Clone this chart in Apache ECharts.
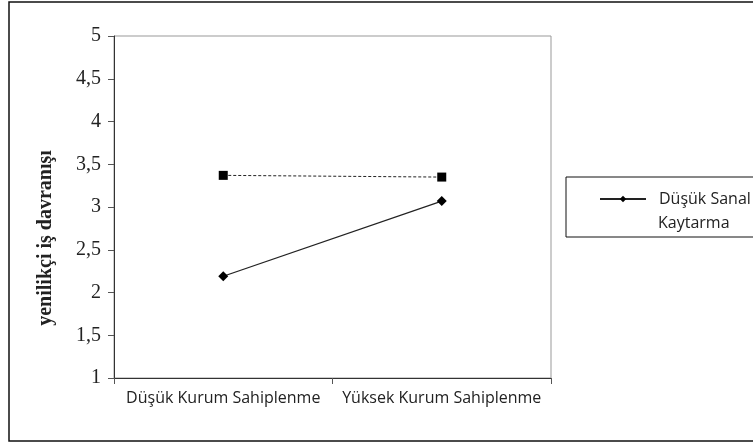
<!DOCTYPE html>
<html>
<head>
<meta charset="utf-8">
<script src="https://cdn.jsdelivr.net/npm/echarts@6/dist/echarts.min.js"></script>
<style>
	html, body { margin: 0; padding: 0; background: #fff; }
	#chart { width: 753px; height: 443px; }
</style>
</head>
<body>
<div id="chart"></div>
<script>
// veriler
var categories = ['Düşük Kurum Sahiplenme', 'Yüksek Kurum Sahiplenme'];
var lowSanal = [2.19, 3.07];
var highSanal = [3.37, 3.35];
var seriesNames = ['Düşük Sanal Kaytarma', 'Yüksek Sanal Kaytarma'];
var yTicks = [1, 1.5, 2, 2.5, 3, 3.5, 4, 4.5, 5];
var yName = 'yenilikçi iş davranışı';

var myChart = echarts.init(document.getElementById('chart'));

var option = {
	animation: false,
	backgroundColor: '#fff',
	graphic: [{
		type: 'rect',
		shape: { x: 9, y: 2, width: 800, height: 439 },
		style: { fill: 'none', stroke: '#111', lineWidth: 1.5 },
		silent: true
	}, {
		// eksen adı
		type: 'text',
		x: 46,
		y: 238,
		rotation: Math.PI / 2,
		style: {
			text: yName,
			fontFamily: 'Liberation Serif',
			fontWeight: 'bold',
			fontSize: 20,
			fill: '#222',
			align: 'center',
			verticalAlign: 'middle'
		},
		silent: true
	}, {
		// lejant ikinci satır
		type: 'text',
		x: 658,
		y: 223,
		style: {
			text: 'Kaytarma',
			fontFamily: 'Open Sans',
			fontSize: 16,
			fill: '#222',
			align: 'left',
			verticalAlign: 'middle'
		},
		silent: true
	}],
	grid: {
		left: 114,
		right: 202,
		top: 36,
		bottom: 65,
		show: true,
		borderColor: '#999',
		borderWidth: 1
	},
	legend: {
		data: [seriesNames[0]],
		left: 566,
		top: 177,
		orient: 'vertical',
		borderColor: '#111',
		borderWidth: 1,
		padding: [12, 40, 28, 33],
		itemWidth: 46,
		itemHeight: 8,
		formatter: function(name) {
			return 'Düşük Sanal';
		},
		textStyle: {
			fontFamily: 'Open Sans',
			fontSize: 16,
			lineHeight: 20,
			padding: [0, 0, 0, 8],
			color: '#222'
		}
	},
	xAxis: {
		type: 'category',
		data: categories,
		boundaryGap: true,
		axisLine: { lineStyle: { color: '#333' } },
		axisTick: { show: true, length: 6, lineStyle: { color: '#555' } },
		axisLabel: {
			interval: 0,
			margin: 12,
			fontFamily: 'Open Sans',
			fontSize: 16,
			color: '#222'
		},
		splitLine: { show: false }
	},
	yAxis: {
		type: 'value',
		min: 1,
		max: 5,
		interval: 0.5,
		axisLine: { show: true, lineStyle: { color: '#333' } },
		axisTick: { show: true, inside: false, length: 6, lineStyle: { color: '#555' } },
		axisLabel: {
			margin: 13,
			fontFamily: 'Liberation Serif',
			fontSize: 20,
			color: '#222',
			formatter: function(v) {
				return yTicks.indexOf(v) >= 0 ? String(v).replace('.', ',') : '';
			}
		},
		splitLine: { show: false }
	},
	series: [{
		name: seriesNames[0],
		type: 'line',
		data: lowSanal,
		symbol: 'diamond',
		symbolSize: 10,
		lineStyle: { color: '#222', width: 1.3 },
		itemStyle: { color: '#000' }
	}, {
		name: seriesNames[1],
		type: 'line',
		data: highSanal,
		symbol: 'rect',
		symbolSize: 9,
		lineStyle: { color: '#222', width: 1, type: [3, 2] },
		itemStyle: { color: '#000' }
	}]
};

myChart.setOption(option);
</script>
</body>
</html>
